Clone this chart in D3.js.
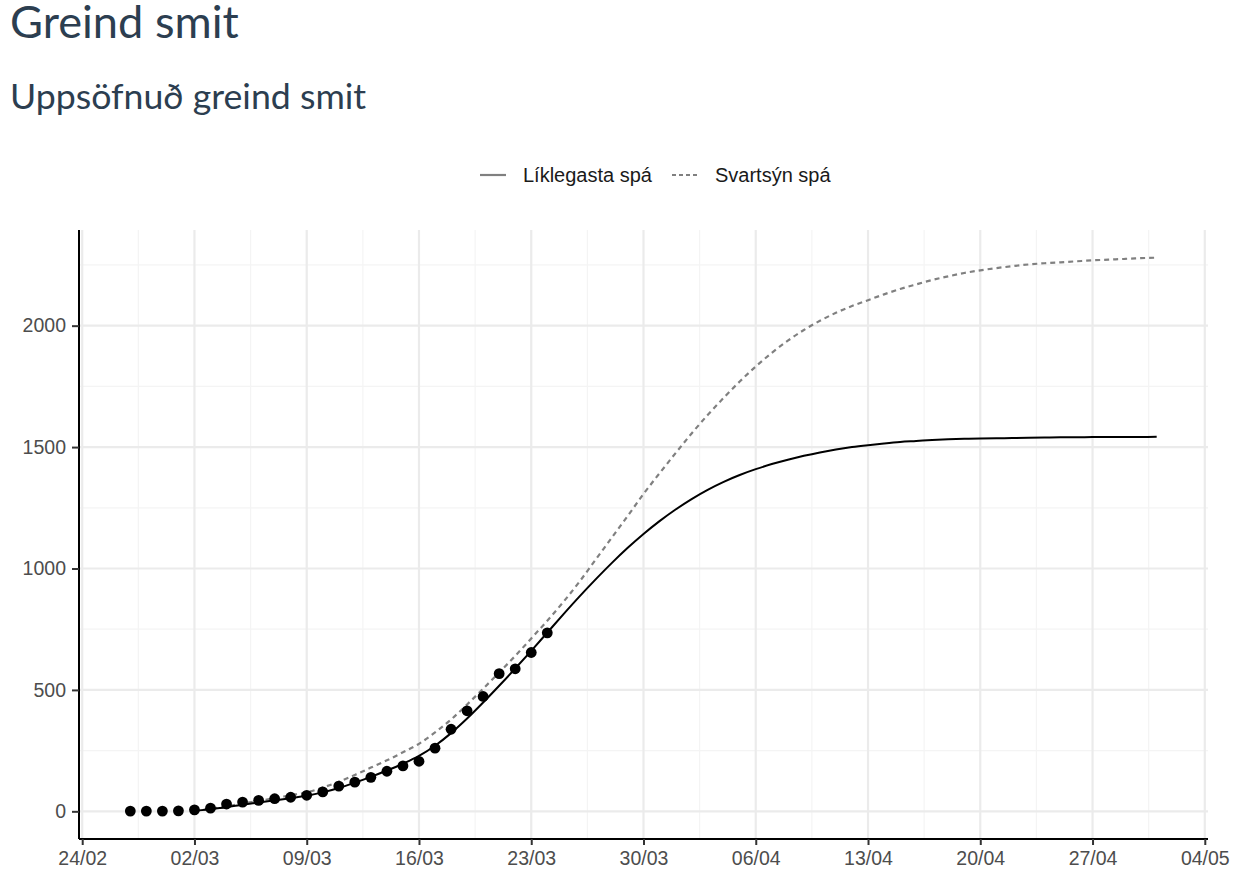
<!DOCTYPE html>
<html>
<head>
<meta charset="utf-8">
<script src="https://cdn.jsdelivr.net/npm/d3@7/dist/d3.min.js"></script>
<style>
  html, body { margin: 0; padding: 0; background: #fff; }
  svg { display: block; }
</style>
</head>
<body>
<svg id="chart" width="1241" height="884"></svg>
<script>
// ---- Data ----
const titleText = "Greind smit";
const subtitleText = "Uppsöfnuð greind smit";
const seriesNames = ["Líklegasta spá", "Svartsýn spá"];

// Observed cumulative cases, daily from 27/02/2020
const observedStart = "2020-02-27";
const observedCases = [1, 1, 1, 2, 6, 13, 30, 38, 45, 52, 58, 66, 80, 104, 120, 140, 165, 187, 206, 260, 338, 414, 473, 567, 587, 654, 735];

// Forecasts, daily from 02/03/2020 to 01/05/2020
const forecastStart = "2020-03-02";
const likelyForecast = [2, 9, 17, 27, 36, 45, 54, 64, 78, 96, 118, 142, 168, 196, 228,
  270, 322, 382, 448, 517, 588, 661, 736, 811, 884, 954, 1021, 1084, 1142, 1195, 1243, 1286, 1324, 1357, 1385, 1409,
  1430, 1448, 1464, 1478, 1490, 1500, 1508, 1515, 1521, 1525, 1529, 1532, 1534, 1535, 1536, 1537, 1538, 1539, 1540, 1540, 1541, 1541, 1542, 1542, 1543];
const pessimisticForecast = [1, 10, 20, 32, 43, 54, 66, 78, 98, 122, 150, 180, 210, 243, 278, 325, 378, 440, 505, 572, 640, 712, 785, 862, 945, 1035, 1125, 1215, 1307, 1392, 1475, 1556, 1632, 1703, 1770, 1832, 1888, 1938, 1982, 2020, 2053, 2081, 2105, 2129, 2151, 2170, 2188, 2203, 2217, 2228, 2237, 2245, 2252, 2257, 2261, 2265, 2269, 2272, 2275, 2278, 2280];

const yTicks = [0, 500, 1000, 1500, 2000];
const yMinorTicks = [250, 750, 1250, 1750, 2250];
const xTickStart = "2020-02-24";
const xTickCount = 11; // weekly ticks 24/02 .. 04/05

// ---- Build series ----
const parse = d3.utcParse("%Y-%m-%d");
const obs = observedCases.map((v, i) => ({ date: d3.utcDay.offset(parse(observedStart), i), value: v }));
const likely = likelyForecast.map((v, i) => ({ date: d3.utcDay.offset(parse(forecastStart), i), value: v }));
const pess = pessimisticForecast.map((v, i) => ({ date: d3.utcDay.offset(parse(forecastStart), i), value: v }));

const allDates = obs.concat(likely, pess).map(d => d.date);
const allVals = obs.concat(likely, pess).map(d => d.value);
const [dMin, dMax] = d3.extent(allDates);
const [vMin, vMax] = d3.extent(allVals);
const dPad = (dMax - dMin) * 0.05;
const vPad = (vMax - vMin) * 0.05;

const svg = d3.select("#chart");
const plot = { left: 79, right: 1208, top: 230, bottom: 839 };

const x = d3.scaleUtc()
  .domain([new Date(+dMin - dPad), new Date(+dMax + dPad)])
  .range([plot.left, plot.right]);
const y = d3.scaleLinear()
  .domain([Math.min(0, vMin) - vPad, vMax + vPad])
  .range([plot.bottom, plot.top]);

const xTicks = d3.range(xTickCount).map(i => d3.utcDay.offset(parse(xTickStart), 7 * i));
const xMinor = xTicks.slice(0, -1).map(d => new Date(+d + 3.5 * 864e5));
const fmt = d3.utcFormat("%d/%m");

// ---- Titles ----
svg.append("text").attr("x", 10).attr("y", 38)
  .attr("font-family", "Lato, sans-serif").attr("font-size", 45.2)
  .attr("fill", "#2c3e50").text(titleText);
svg.append("text").attr("x", 10).attr("y", 109)
  .attr("font-family", "Lato, sans-serif").attr("font-size", 35.7)
  .attr("fill", "#2c3e50").text(subtitleText);

// ---- Grid ----
const grid = svg.append("g");
grid.selectAll(".ymin").data(yMinorTicks).join("line")
  .attr("x1", plot.left).attr("x2", plot.right)
  .attr("y1", d => y(d)).attr("y2", d => y(d))
  .attr("stroke", "#f4f4f4").attr("stroke-width", 1.2);
grid.selectAll(".xmin").data(xMinor).join("line")
  .attr("x1", d => x(d)).attr("x2", d => x(d))
  .attr("y1", plot.top).attr("y2", plot.bottom)
  .attr("stroke", "#f4f4f4").attr("stroke-width", 1.2);
grid.selectAll(".ymaj").data(yTicks).join("line")
  .attr("x1", plot.left).attr("x2", plot.right)
  .attr("y1", d => y(d)).attr("y2", d => y(d))
  .attr("stroke", "#ebebeb").attr("stroke-width", 2.2);
grid.selectAll(".xmaj").data(xTicks).join("line")
  .attr("x1", d => x(d)).attr("x2", d => x(d))
  .attr("y1", plot.top).attr("y2", plot.bottom)
  .attr("stroke", "#ebebeb").attr("stroke-width", 2.2);

// ---- Lines ----
const line = d3.line().x(d => x(d.date)).y(d => y(d.value)).curve(d3.curveMonotoneX);
svg.append("path").datum(pess).attr("d", line)
  .attr("fill", "none").attr("stroke", "#808080").attr("stroke-width", 2.2)
  .attr("stroke-dasharray", "5,4");
svg.append("path").datum(likely).attr("d", line)
  .attr("fill", "none").attr("stroke", "#000").attr("stroke-width", 2);

// ---- Points ----
svg.selectAll(".pt").data(obs).join("circle")
  .attr("cx", d => x(d.date)).attr("cy", d => y(d.value)).attr("r", 5.4)
  .attr("fill", "#000");

// ---- Axes ----
const yAxis = svg.append("g").attr("transform", `translate(${plot.left},0)`)
  .call(d3.axisLeft(y).tickValues(yTicks).tickFormat(d3.format("d")).tickSize(7).tickPadding(6));
const xAxis = svg.append("g").attr("transform", `translate(0,${plot.bottom})`)
  .call(d3.axisBottom(x).tickValues(xTicks).tickFormat(fmt).tickSize(6).tickPadding(6));
[yAxis, xAxis].forEach(g => {
  g.select(".domain").attr("stroke", "#000").attr("stroke-width", 2);
  g.selectAll(".tick line").attr("stroke", "#333").attr("stroke-width", 2);
  g.selectAll(".tick text").attr("fill", "#4d4d4d")
    .attr("font-family", "Liberation Sans, Arial, sans-serif").attr("font-size", 19.5);
});
yAxis.select(".domain").attr("d", `M0,${plot.bottom}V${plot.top}`);
xAxis.select(".domain").attr("d", `M${plot.left},0H${plot.right}`);

// ---- Legend ----
const legend = svg.append("g").attr("font-family", "Liberation Sans, Arial, sans-serif")
  .attr("font-size", 20).attr("fill", "#1a1a1a");
const legItems = [
  { name: seriesNames[0], x0: 480, dash: null },
  { name: seriesNames[1], x0: 672, dash: "4,3" }
];
legItems.forEach(it => {
  legend.append("line").attr("x1", it.x0).attr("x2", it.x0 + 26)
    .attr("y1", 175).attr("y2", 175)
    .attr("stroke", "#808080").attr("stroke-width", 2.2)
    .attr("stroke-dasharray", it.dash);
  legend.append("text").attr("x", it.x0 + 43).attr("y", 182).text(it.name);
});
</script>
</body>
</html>
